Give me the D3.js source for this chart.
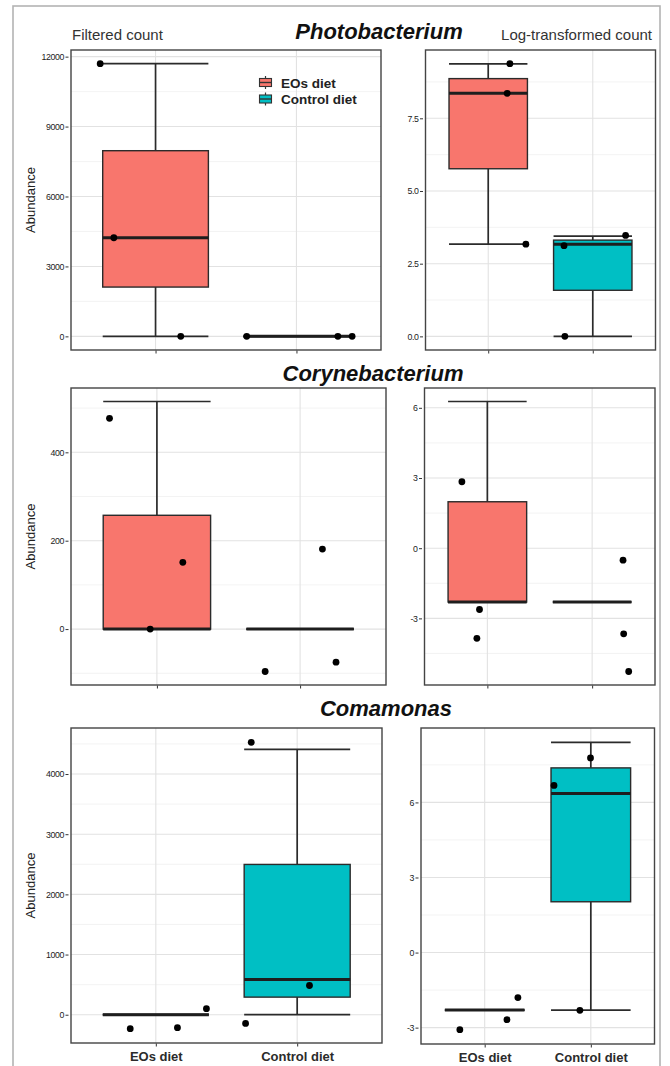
<!DOCTYPE html>
<html><head><meta charset="utf-8">
<script src="https://cdn.jsdelivr.net/npm/d3@7/dist/d3.min.js"></script>
<style>
body{margin:0;background:#fff;}
svg{display:block;font-family:"Liberation Sans",Arial,Helvetica,sans-serif;}
</style></head><body>
<svg id="chart" width="670" height="1066"></svg>
<script>
// ---- categories ----
const groups = ["EOs diet", "Control diet"];
const genera = ["Photobacterium", "Corynebacterium", "Comamonas"];
const countTypes = ["Filtered count", "Log-transformed count"];
const groupColors = ["#F8766D", "#00BFC4"];

// ---- sample values (three samples per diet group) ----
const photoFilteredEOs = [0, 4230, 11700];
const photoFilteredControl = [0, 0, 0];
const photoLogEOs = [3.17, 8.36, 9.37];
const photoLogControl = [0, 3.17, 3.45];
const corynFilteredEOs = [0, 0, 515];
const corynFilteredControl = [0, 0, 0];
const corynLogEOs = [-2.3, -2.3, 6.27];
const corynLogControl = [-2.3, -2.3, -2.3];
const comaFilteredEOs = [0, 0, 0];
const comaFilteredControl = [0, 585, 4410];
const comaLogEOs = [-2.3, -2.3, -2.3];
const comaLogControl = [-2.3, 6.36, 8.4];

// ---- jittered sample points: [horizontal offset from group centre, value] ----
const photoFilteredPtsEOs = [[-0.393, 11700], [-0.296, 4230], [0.179, 0]];
const photoFilteredPtsControl = [[-0.353, 0], [0.294, 0], [0.395, 0]];
const photoLogPtsEOs = [[0.207, 9.38], [0.181, 8.36], [0.36, 3.17]];
const photoLogPtsControl = [[-0.275, 3.12], [0.314, 3.47], [-0.267, 0]];
const corynFilteredPtsEOs = [[-0.331, 477], [0.181, 151], [-0.047, 0]];
const corynFilteredPtsControl = [[0.156, 181], [-0.244, -96], [0.251, -75]];
const corynLogPtsEOs = [[-0.243, 2.84], [-0.075, -2.62], [-0.1, -3.85]];
const corynLogPtsControl = [[0.295, -0.51], [0.301, -3.66], [0.349, -5.27]];
const comaFilteredPtsEOs = [[-0.181, -232], [0.153, -216], [0.358, 100]];
const comaFilteredPtsControl = [[-0.325, 4527], [0.087, 486], [-0.365, -144]];
const comaLogPtsEOs = [[-0.234, -3.08], [0.21, -2.68], [0.313, -1.8]];
const comaLogPtsControl = [[-0.003, 7.78], [-0.347, 6.68], [-0.103, -2.31]];

// ---- y tick labels ----
const photoFilteredTicks = [0, 3000, 6000, 9000, 12000];
const photoLogTicks = [0, 2.5, 5, 7.5];
const corynFilteredTicks = [0, 200, 400];
const corynLogTicks = [-3, 0, 3, 6];
const comaFilteredTicks = [0, 1000, 2000, 3000, 4000];
const comaLogTicks = [-3, 0, 3, 6];

// ---- panel layout: [left, top, right, bottom] ----
const panels = [
  {row: 0, col: 0, rect: [71, 50, 381, 350], samples: [photoFilteredEOs, photoFilteredControl],
   points: [photoFilteredPtsEOs, photoFilteredPtsControl], ticks: photoFilteredTicks, dec: 0},
  {row: 0, col: 1, rect: [425.5, 50, 655.5, 350], samples: [photoLogEOs, photoLogControl],
   points: [photoLogPtsEOs, photoLogPtsControl], ticks: photoLogTicks, dec: 1},
  {row: 1, col: 0, rect: [71, 388, 386, 685], samples: [corynFilteredEOs, corynFilteredControl],
   points: [corynFilteredPtsEOs, corynFilteredPtsControl], ticks: corynFilteredTicks, dec: 0},
  {row: 1, col: 1, rect: [424.5, 388, 655, 685], samples: [corynLogEOs, corynLogControl],
   points: [corynLogPtsEOs, corynLogPtsControl], ticks: corynLogTicks, dec: 0},
  {row: 2, col: 0, rect: [71, 728, 382, 1043], samples: [comaFilteredEOs, comaFilteredControl],
   points: [comaFilteredPtsEOs, comaFilteredPtsControl], ticks: comaFilteredTicks, dec: 0},
  {row: 2, col: 1, rect: [421, 728, 654.5, 1044], samples: [comaLogEOs, comaLogControl],
   points: [comaLogPtsEOs, comaLogPtsControl], ticks: comaLogTicks, dec: 0}
];
const titlePos = [[379, 39], [373, 381], [386, 716]];

const svg = d3.select("#chart");

// outer frame
svg.append("rect").attr("x", 13).attr("y", 6).attr("width", 647).attr("height", 1080)
  .attr("fill", "#fff").attr("stroke", "#b3b3b3").attr("stroke-width", 1.6);

// genus titles
genera.forEach((name, i) => {
  svg.append("text").attr("x", titlePos[i][0]).attr("y", titlePos[i][1])
    .attr("text-anchor", "middle").attr("font-size", 22).attr("font-weight", "bold")
    .attr("font-style", "italic").attr("fill", "#111").text(name);
});

// count-type headings
svg.append("text").attr("x", 72).attr("y", 40).attr("font-size", 15).attr("fill", "#333").text(countTypes[0]);
svg.append("text").attr("x", 652).attr("y", 40).attr("text-anchor", "end").attr("font-size", 15)
  .attr("fill", "#333").text(countTypes[1]);

const boxWidth = 0.75;

panels.forEach(p => {
  const [x0, y0, x1, y1] = p.rect;
  const allY = [...p.samples.flat(), ...p.points.flat().map(d => d[1])];
  const [lo, hi] = d3.extent(allY);
  const pad = (hi - lo) * 0.05;
  const y = d3.scaleLinear().domain([lo - pad, hi + pad]).range([y1, y0]);
  const x = d3.scaleLinear().domain([0.4, 2.6]).range([x0, x1]);
  const g = svg.append("g");

  // minor grid
  const step = p.ticks[1] - p.ticks[0];
  const minor = d3.range(p.ticks[0] - step / 2, p.ticks[p.ticks.length - 1] + step, step)
    .filter(v => v > y.domain()[0] && v < y.domain()[1]);
  g.selectAll(".minor").data(minor).join("line")
    .attr("x1", x0).attr("x2", x1).attr("y1", d => y(d)).attr("y2", d => y(d))
    .attr("stroke", "#f0f0f0").attr("stroke-width", 0.8);
  // major grid
  g.selectAll(".major").data(p.ticks).join("line")
    .attr("x1", x0).attr("x2", x1).attr("y1", d => y(d)).attr("y2", d => y(d))
    .attr("stroke", "#e2e2e2").attr("stroke-width", 1.1);
  g.selectAll(".vgrid").data(groups).join("line")
    .attr("x1", (d, i) => x(i + 1)).attr("x2", (d, i) => x(i + 1)).attr("y1", y0).attr("y2", y1)
    .attr("stroke", "#e2e2e2").attr("stroke-width", 1.1);

  // boxplots
  groups.forEach((grp, i) => {
    const v = p.samples[i].slice().sort(d3.ascending);
    const q1 = d3.quantile(v, 0.25), med = d3.quantile(v, 0.5), q3 = d3.quantile(v, 0.75);
    const mn = v[0], mx = v[v.length - 1];
    const cx = x(i + 1), bl = x(i + 1 - boxWidth / 2), br = x(i + 1 + boxWidth / 2);
    const bg = g.append("g").attr("stroke", "#2b2b2b");
    // whiskers with end caps
    bg.append("line").attr("x1", cx).attr("x2", cx).attr("y1", y(mx)).attr("y2", y(q3)).attr("stroke-width", 1.7);
    bg.append("line").attr("x1", cx).attr("x2", cx).attr("y1", y(q1)).attr("y2", y(mn)).attr("stroke-width", 1.7);
    [mn, mx].forEach(w => bg.append("line").attr("x1", bl).attr("x2", br)
      .attr("y1", y(w)).attr("y2", y(w)).attr("stroke-width", 1.7));
    // box
    bg.append("rect").attr("x", bl).attr("y", y(q3)).attr("width", br - bl)
      .attr("height", Math.max(0, y(q1) - y(q3))).attr("fill", groupColors[i]).attr("stroke-width", 1.4);
    // median
    bg.append("line").attr("x1", bl).attr("x2", br).attr("y1", y(med)).attr("y2", y(med))
      .attr("stroke", "#1e1e1e").attr("stroke-width", 3);
  });

  // jittered points
  groups.forEach((grp, i) => {
    g.selectAll(null).data(p.points[i]).join("circle")
      .attr("cx", d => x(i + 1 + d[0])).attr("cy", d => y(d[1])).attr("r", 3.4).attr("fill", "#000");
  });

  // panel border
  g.append("rect").attr("x", x0).attr("y", y0).attr("width", x1 - x0).attr("height", y1 - y0)
    .attr("fill", "none").attr("stroke", "#444").attr("stroke-width", 1.4);

  // y axis
  const fmt = d => d.toFixed(p.dec);
  const ya = g.append("g").attr("transform", `translate(${x0 - 2.5},0)`)
    .call(d3.axisLeft(y).tickValues(p.ticks).tickFormat(fmt).tickSize(3).tickPadding(1.5));
  ya.select(".domain").remove();
  ya.selectAll(".tick line").attr("stroke", "#333").attr("stroke-width", 1);
  ya.selectAll(".tick text").attr("font-size", 8.8).attr("letter-spacing", -0.4).attr("fill", "#222")
    .attr("font-family", "'Liberation Sans',Arial,sans-serif");

  // x ticks
  const xa = g.append("g").attr("transform", `translate(0,${y1 + 0.5})`)
    .call(d3.axisBottom(x).tickValues([1, 2]).tickSize(3).tickPadding(5)
      .tickFormat(d => p.row === 2 ? groups[d - 1] : ""));
  xa.select(".domain").remove();
  xa.selectAll(".tick line").attr("stroke", "#333");
  xa.selectAll(".tick text").attr("font-size", 13).attr("font-weight", "bold").attr("fill", "#2b2b2b")
    .attr("font-family", "'Liberation Sans',Arial,sans-serif");

  // y axis title on the left column
  if (p.col === 0) {
    svg.append("text").attr("transform", `translate(35,${(y0 + y1) / 2}) rotate(-90)`)
      .attr("text-anchor", "middle").attr("font-size", 13).attr("fill", "#222").text("Abundance");
  }
});

// legend
const legend = svg.append("g").attr("transform", "translate(258,74.5)");
groups.forEach((grp, i) => {
  const k = legend.append("g").attr("transform", `translate(0,${i * 16.5})`);
  k.append("line").attr("x1", 7.5).attr("x2", 7.5).attr("y1", 1.5).attr("y2", 14.5)
    .attr("stroke", "#333").attr("stroke-width", 1.2);
  k.append("rect").attr("x", 1.5).attr("y", 4).attr("width", 12).attr("height", 8)
    .attr("fill", groupColors[i]).attr("stroke", "#333").attr("stroke-width", 1.1);
  k.append("line").attr("x1", 1.5).attr("x2", 13.5).attr("y1", 8).attr("y2", 8)
    .attr("stroke", "#333").attr("stroke-width", 1.4);
  legend.append("text").attr("x", 23).attr("y", i * 16.5 + 13).attr("font-size", 13.5)
    .attr("font-weight", "bold").attr("fill", "#222").text(grp);
});
</script>
</body></html>
